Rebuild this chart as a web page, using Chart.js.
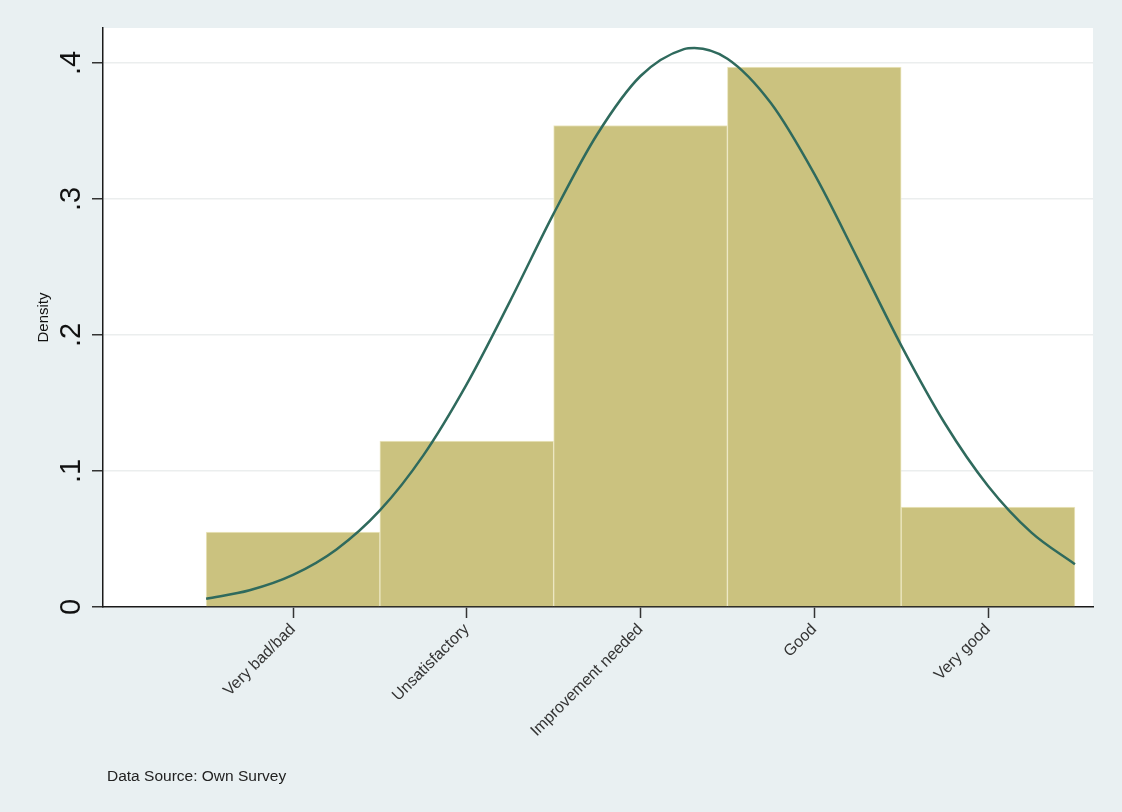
<!DOCTYPE html>
<html>
<head>
<meta charset="utf-8">
<script src="https://cdn.jsdelivr.net/npm/chart.js@4.4.1/dist/chart.umd.min.js"></script>
<style>
  html, body { margin: 0; padding: 0; background: #e9f0f2; }
  canvas { display: block; }
</style>
</head>
<body>
<canvas id="c" width="1122" height="812"></canvas>
<script>
// Survey rating categories and their coded positions on the x axis
const categories = ['Very bad/bad', 'Unsatisfactory', 'Improvement needed', 'Good', 'Very good'];
const categoryCodes = [1, 2, 3, 4, 5];

// Histogram densities per category
const densities = [0.055, 0.122, 0.354, 0.397, 0.0735];

// Overlaid normal density curve (x = coded rating, y = density)
const curveX = [0.5, 0.75, 1.0, 1.25, 1.5, 1.75, 2.0, 2.25, 2.5, 2.75, 3.0, 3.25, 3.31, 3.5, 3.75, 4.0, 4.25, 4.5, 4.75, 5.0, 5.25, 5.5];
const curveY = [0.0060, 0.0123, 0.0236, 0.0423, 0.0710, 0.1115, 0.1639, 0.2251, 0.2892, 0.3474, 0.3904, 0.4102, 0.4110, 0.4031, 0.3705, 0.3184, 0.2560, 0.1924, 0.1353, 0.0890, 0.0547, 0.0315];

// Y axis ticks
const yTickValues = [0, 0.1, 0.2, 0.3, 0.4];
const yTickLabels = ['0', '.1', '.2', '.3', '.4'];

const footnote = 'Data Source: Own Survey';
const FONT = '"Liberation Sans", Arial, Helvetica, sans-serif';

const decorations = {
  id: 'decorations',
  beforeDraw(chart) {
    const { ctx, chartArea: a } = chart;
    ctx.save();
    ctx.fillStyle = '#e9f0f2';
    ctx.fillRect(0, 0, chart.width, chart.height);
    ctx.fillStyle = '#ffffff';
    ctx.fillRect(a.left, a.top, a.right - a.left, a.bottom - a.top);
    ctx.restore();
  },
  afterDraw(chart) {
    const { ctx } = chart;
    const y = chart.scales.y;
    ctx.save();
    // rotated y tick labels
    ctx.fillStyle = '#111';
    ctx.font = '29px ' + FONT;
    ctx.textAlign = 'center';
    ctx.textBaseline = 'alphabetic';
    yTickValues.forEach((v, i) => {
      const py = y.getPixelForValue(v);
      ctx.save();
      ctx.translate(80, py);
      ctx.rotate(-Math.PI / 2);
      ctx.fillText(yTickLabels[i], 0, 0);
      ctx.restore();
    });
    // source note
    ctx.font = '15.5px ' + FONT;
    ctx.fillStyle = '#222';
    ctx.textAlign = 'left';
    ctx.textBaseline = 'alphabetic';
    ctx.fillText(footnote, 107, 781);
    ctx.restore();
  }
};

new Chart(document.getElementById('c'), {
  type: 'bar',
  data: {
    datasets: [
      {
        type: 'line',
        label: 'Normal density',
        data: curveX.map((x, i) => ({ x: x, y: curveY[i] })),
        borderColor: '#2f6a5d',
        borderWidth: 2.5,
        pointRadius: 0,
        fill: false,
        cubicInterpolationMode: 'monotone',
        order: 0
      },
      {
        type: 'bar',
        label: 'Density',
        data: categoryCodes.map((x, i) => ({ x: x, y: densities[i] })),
        backgroundColor: '#cbc27f',
        borderColor: '#ece7c2',
        borderWidth: 1,
        barPercentage: 1,
        categoryPercentage: 1,
        order: 1
      }
    ]
  },
  options: {
    responsive: false,
    animation: false,
    devicePixelRatio: 1,
    layout: { padding: { top: 28, right: 29, bottom: 0, left: 0 } },
    plugins: {
      legend: { display: false },
      tooltip: { enabled: false }
    },
    scales: {
      x: {
        type: 'linear',
        min: -0.0935,
        max: 5.604,
        offset: false,
        afterBuildTicks: s => { s.ticks = categoryCodes.map(v => ({ value: v })); },
        afterFit: s => { s.height = 205; },
        ticks: {
          autoSkip: false,
          minRotation: 45,
          maxRotation: 45,
          padding: 2,
          color: '#333',
          font: { family: FONT, size: 16 },
          callback: v => categories[categoryCodes.indexOf(v)] || ''
        },
        grid: {
          offset: false,
          drawOnChartArea: false,
          drawTicks: true,
          tickLength: 11,
          tickColor: '#333',
          tickWidth: 1.5
        },
        border: { display: true, color: '#1a1a1a', width: 1.5 }
      },
      y: {
        min: 0,
        max: 0.4257,
        afterBuildTicks: s => { s.ticks = yTickValues.map(v => ({ value: v })); },
        afterFit: s => { s.width = 103; },
        ticks: { display: false },
        grid: {
          color: '#ebeeee',
          lineWidth: 1.5,
          drawTicks: true,
          tickLength: 11,
          tickColor: '#333',
          tickWidth: 1.5
        },
        border: { display: true, color: '#1a1a1a', width: 1.5 },
        title: {
          display: true,
          text: 'Density',
          color: '#111',
          font: { family: FONT, size: 15 },
          padding: { top: 35, bottom: 0 }
        }
      }
    }
  },
  plugins: [decorations]
});
</script>
</body>
</html>
